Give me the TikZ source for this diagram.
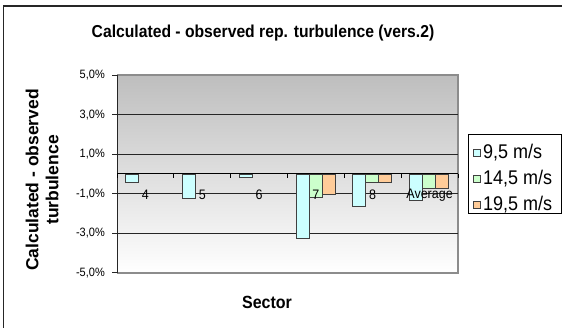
\documentclass[tikz,border=0pt]{standalone}
\usepackage{graphicx}
\usepackage{fontspec}
\setmainfont{Liberation Sans}
\definecolor{cbar}{RGB}{204,255,255}
\definecolor{gbar}{RGB}{204,255,204}
\definecolor{obar}{RGB}{255,204,153}
\definecolor{topgray}{RGB}{190,190,190}
\newcommand{\vstretch}[1]{\scalebox{1}[1.1]{#1}}
\begin{document}
\begin{tikzpicture}[x=1pt,y=-1pt,
  titlefont/.style={font=\fontsize{15.7}{18}\selectfont\bfseries},
  axtitle/.style={font=\fontsize{17.5}{20}\selectfont\bfseries, inner sep=0pt},
  ticklab/.style={font=\fontsize{11}{12}\selectfont, anchor=east, inner sep=0pt},
  catlab/.style={font=\fontsize{12.5}{13}\selectfont, inner sep=0pt},
  legtext/.style={font=\fontsize{18}{19}\selectfont, anchor=west, inner sep=0pt},
  barbox/.style={draw=black!75, line width=0.7pt},
  grid line/.style={draw=black!85, line width=0.8pt}
]
\useasboundingbox (0,0) rectangle (562,328);
\clip (0,0) rectangle (562,328);
% outer frame
\draw[line width=1.3pt, black!85] (3.6,6) rectangle (570,340);
% title
\node[titlefont] (title) at (263,33) {\vstretch{Calculated - observed rep. turbulence (vers.2)}};
% plot area
\shade[top color=topgray, bottom color=white] (117,75) rectangle (458,273);
\draw[gray!90, line width=1.2pt] (117,75) -- (458,75) -- (458,273) -- (117,273);
% grid lines
\foreach \v in {3,1,-1,-3} {
  \draw[grid line] (117,{174-19.75*\v}) -- (458,{174-19.75*\v});
}
% value axis
\draw[black!85, line width=0.9pt] (117,75) -- (117,273);
\foreach \v/\t in {5/{5,0\%},3/{3,0\%},1/{1,0\%},-1/{-1,0\%},-3/{-3,0\%},-5/{-5,0\%}} {
  \draw[black!85, line width=0.8pt] (112,{174-19.75*\v}) -- (117,{174-19.75*\v});
  \node[ticklab] (yl\v) at (105,{174-19.75*\v}) {\vstretch{\t}};
}
% bars
\foreach \i/\c/\g/\o in {0/-0.44/0/0, 1/-1.23/0/0, 2/-0.17/0/0, 3/-3.24/-1.18/-1.01, 4/-1.62/-0.42/-0.42, 5/-1.33/-0.74/-0.74} {
  \pgfmathsetmacro{\s}{117+56.83*\i+8.4}
  \draw[barbox, fill=cbar] (\s,174) rectangle ({\s+13},{174-19.75*\c});
  \ifdim \g pt<0pt
    \draw[barbox, fill=gbar] ({\s+13},174) rectangle ({\s+26},{174-19.75*\g});
  \fi
  \ifdim \o pt<0pt
    \draw[barbox, fill=obar] ({\s+26},174) rectangle ({\s+39},{174-19.75*\o});
  \fi
}
% category axis
\draw[black, line width=1pt] (117,174) -- (458,174);
\foreach \i in {0,...,6} {
  \draw[black, line width=0.8pt] ({117+56.83*\i},174) -- ({117+56.83*\i},178);
}
\foreach \i/\t in {0/4,1/5,2/6,3/7,4/8,5/Average} {
  \node[catlab] (cl\i) at ({145.4+56.83*\i},195) {\vstretch{\t}};
}
% axis titles
\node[axtitle, rotate=90, align=center] (ytitle) at (42,180) {Calculated - observed\\turbulence};
\node[axtitle, font=\fontsize{16}{18}\selectfont\bfseries] (xtitle) at (267,302) {\vstretch{Sector}};
% legend
\node[draw=black, line width=0.9pt, minimum width=93pt, minimum height=79pt, inner sep=0pt] (legend) at (514.5,173.5) {};
\foreach \k/\col/\t/\yy in {1/cbar/{9,5 m/s}/152.5, 2/gbar/{14,5 m/s}/178.5, 3/obar/{19,5 m/s}/205} {
  \draw[barbox, fill=\col] (473.5,{\yy-3.5}) rectangle (480.5,{\yy+3.5});
  \node[legtext] (lt\k) at (483,\yy) {\vstretch{\t}};
}
\end{tikzpicture}
\end{document}
